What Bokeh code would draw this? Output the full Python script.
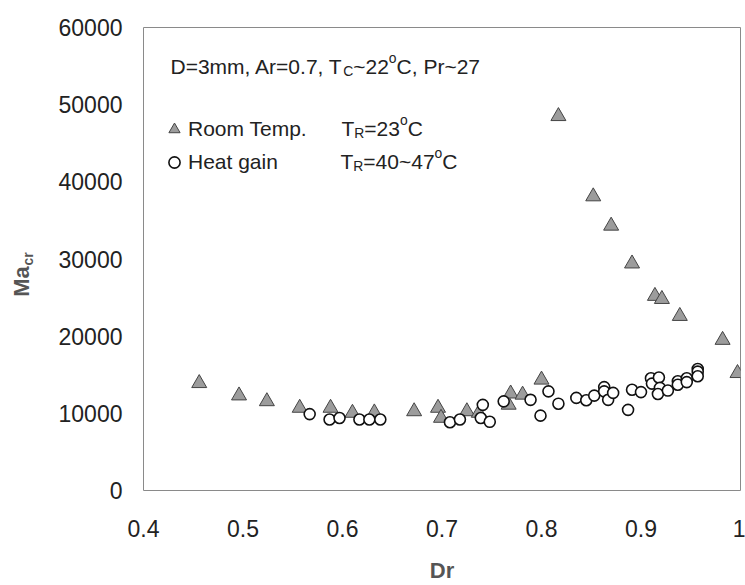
import math
from bokeh.plotting import figure
from bokeh.layouts import row
from bokeh.models import (ColumnDataSource, Label, Legend, LegendItem, FixedTicker,
                          CustomJSTickFormatter, Range1d)
from bokeh.embed import file_html
from bokeh.resources import INLINE

# ---------------- data ----------------
room_dr = [0.456, 0.496, 0.524, 0.557, 0.588, 0.610, 0.632, 0.672, 0.696, 0.699,
           0.725, 0.737, 0.767, 0.769, 0.781, 0.800, 0.817, 0.852, 0.870, 0.891,
           0.914, 0.921, 0.939, 0.982, 0.997]
room_ma = [13900, 12300, 11550, 10700, 10700, 10050, 10100, 10250, 10700, 9400,
           10250, 10050, 11100, 12550, 12400, 14350, 48500, 38100, 34300, 29400,
           25200, 24800, 22600, 19500, 15200]

heat_dr = [0.567, 0.587, 0.597, 0.617, 0.627, 0.638, 0.708, 0.718, 0.739, 0.741,
           0.748, 0.762, 0.789, 0.799, 0.807, 0.817, 0.835, 0.845, 0.853, 0.863,
           0.863, 0.867, 0.872, 0.887, 0.891, 0.900, 0.910, 0.911, 0.918, 0.919,
           0.917, 0.927, 0.937, 0.937, 0.946, 0.946, 0.957, 0.957, 0.957]
heat_ma = [9900, 9200, 9400, 9200, 9200, 9200, 8850, 9200, 9400, 11100,
           8900, 11550, 11750, 9700, 12850, 11250, 12000, 11700, 12300, 13400,
           12850, 11750, 12650, 10450, 13050, 12750, 14550, 13850, 14650, 13300,
           12500, 12950, 14150, 13700, 14550, 14050, 15750, 15400, 14800]

x_ticks = [0.4, 0.5, 0.6, 0.7, 0.8, 0.9, 1.0]
y_ticks = [0, 10000, 20000, 30000, 40000, 50000, 60000]

series_labels = ["Room Temp.", "Heat gain"]
title_parts = [("D=3mm, Ar=0.7, T", "n"), ("C", "sub"), ("~22", "n"), ("o", "sup"),
               ("C, Pr~27", "n")]
room_tr_parts = [("T", "n"), ("R", "sub"), ("=23", "n"), ("o", "sup"), ("C", "n")]
heat_tr_parts = [("T", "n"), ("R", "sub"), ("=40~47", "n"), ("o", "sup"), ("C", "n")]
y_title = ("Ma", "cr")
x_title = "Dr"

FONT = "Liberation Sans"
TXT = "#222222"
AXT = "#555555"

# Arial / Liberation Sans advance widths (per 1000 em)
AW = {'D': 722, '=': 584, '3': 556, 'm': 833, ',': 278, ' ': 278, 'A': 667, 'r': 333,
      '0': 556, '.': 278, '7': 556, 'T': 611, 'C': 722, '~': 584, '2': 556, 'o': 556,
      'P': 667, 'R': 722, '4': 556, 'a': 556, 'e': 556, 't': 278, 'p': 556,
      'H': 722, 'g': 556, 'i': 222, 'n': 556, 'M': 833, 'c': 500}


def text_width(s, size):
    return sum(AW.get(ch, 556) for ch in s) * size / 1000.0


# ---------------- narrow strip holding the rotated y-axis title ----------------
side = figure(width=40, height=585, output_backend="svg", toolbar_location=None,
              x_axis_type=None, y_axis_type=None, min_border=0,
              x_range=Range1d(0, 1), y_range=Range1d(0, 1))
side.outline_line_color = None
side.background_fill_color = "white"
side.border_fill_color = "white"
side.xgrid.visible = False
side.ygrid.visible = False
side.add_layout(Label(x=21, y=209, x_units="screen", y_units="screen", text=y_title[0],
                      angle=math.pi / 2, text_font=FONT, text_font_size="22px",
                      text_font_style="bold", text_color=AXT,
                      text_align="center", text_baseline="middle"))
side.add_layout(Label(x=27, y=225, x_units="screen", y_units="screen", text=y_title[1],
                      angle=math.pi / 2, text_font=FONT, text_font_size="14px",
                      text_font_style="bold", text_color=AXT,
                      text_align="left", text_baseline="middle"))

# ---------------- main chart ----------------
p = figure(width=705, height=585, output_backend="svg", toolbar_location=None,
           x_range=Range1d(0.4, 1.0), y_range=Range1d(0, 60000),
           min_border_left=103, min_border_right=5, min_border_top=27,
           min_border_bottom=94)
p.background_fill_color = "white"
p.border_fill_color = "white"
p.outline_line_color = "#8a8a8a"
p.outline_line_width = 1
p.xgrid.visible = False
p.ygrid.visible = False

for ax in (p.xaxis[0], p.yaxis[0]):
    ax.axis_line_color = None
    ax.major_tick_line_color = None
    ax.minor_tick_line_color = None
    ax.major_tick_out = 0
    ax.major_tick_in = 0
    ax.major_label_text_font = FONT
    ax.major_label_text_font_size = "23px"
    ax.major_label_text_color = TXT

p.xaxis.ticker = FixedTicker(ticks=x_ticks)
p.yaxis.ticker = FixedTicker(ticks=y_ticks)
p.xaxis.formatter = CustomJSTickFormatter(code="return String(Math.round(tick*10)/10);")
p.yaxis.formatter = CustomJSTickFormatter(code="return String(Math.round(tick));")
p.xaxis.major_label_standoff = 29
p.yaxis.major_label_standoff = 21

p.xaxis.axis_label = x_title
p.xaxis.axis_label_text_font = FONT
p.xaxis.axis_label_text_font_size = "22px"
p.xaxis.axis_label_text_font_style = "bold"
p.xaxis.axis_label_text_color = AXT
p.xaxis.axis_label_standoff = 18

room_src = ColumnDataSource(dict(x=room_dr, y=room_ma))
heat_src = ColumnDataSource(dict(x=heat_dr, y=heat_ma))

r_room = p.scatter("x", "y", source=room_src, marker="triangle", size=15,
                   fill_color="#9c9c9c", line_color="#444444", line_width=1)
r_heat = p.scatter("x", "y", source=heat_src, marker="circle", size=11,
                   fill_color="white", line_color="#111111", line_width=1.6)

legend = Legend(items=[LegendItem(label=series_labels[0], renderers=[r_room]),
                       LegendItem(label=series_labels[1], renderers=[r_heat])],
                location=(17, 314), orientation="vertical",
                glyph_width=28, glyph_height=28, label_standoff=0, spacing=5,
                padding=0, margin=0, border_line_alpha=0, background_fill_alpha=0,
                label_text_font=FONT, label_text_font_size="21px",
                label_text_color=TXT)
p.add_layout(legend, "center")


def rich_text(x, y, parts, size, color=TXT):
    for txt, kind in parts:
        fs = size if kind == "n" else size * 0.66
        dy = {"n": 0.0, "sub": -0.22 * size, "sup": 0.42 * size}[kind]
        p.add_layout(Label(x=x, y=y + dy, x_units="screen", y_units="screen", text=txt,
                           text_font=FONT, text_font_size=f"{fs:.1f}px",
                           text_color=color, text_baseline="alphabetic",
                           text_align="left"))
        x += text_width(txt, fs)


# texts inside the plot (screen coords are relative to the frame's bottom-left)
rich_text(27, 424, title_parts, 21)
rich_text(198, 362, room_tr_parts, 21)
rich_text(197, 329, heat_tr_parts, 21)

open("out.html", "w").write(file_html(row(side, p), INLINE))
